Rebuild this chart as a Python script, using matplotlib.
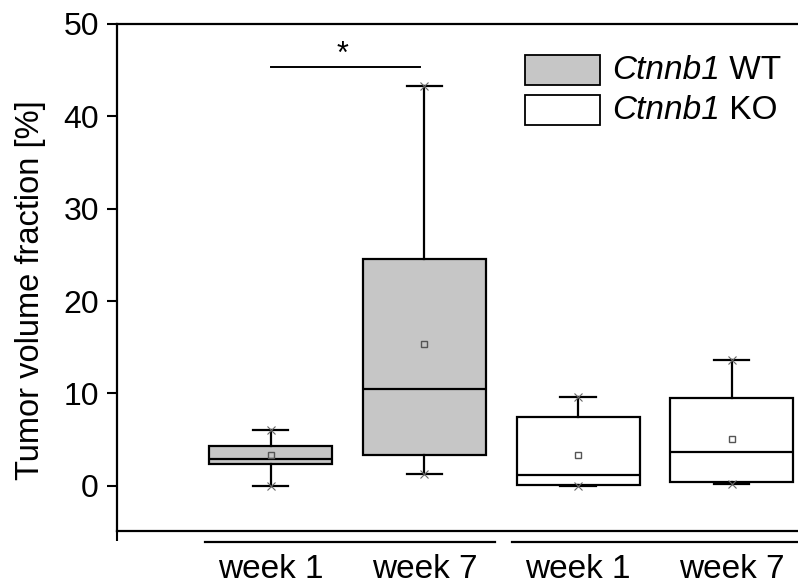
import matplotlib.pyplot as plt
import matplotlib.transforms as mtransforms
from matplotlib.patches import Rectangle

plt.rcParams["font.family"] = ["Liberation Sans", "DejaVu Sans"]

# box statistics (tumor volume fraction, %)
groups = ["WT", "WT", "KO", "KO"]
week_labels = ["week 1", "week 7", "week 1", "week 7"]
q1 = [2.3, 3.35, 0.05, 0.45]
medians = [2.9, 10.5, 1.2, 3.7]
q3 = [4.35, 24.5, 7.4, 9.5]
whisker_low = [0.0, 1.3, 0.0, 0.2]
whisker_high = [6.0, 43.3, 9.6, 13.6]
means = [3.3, 15.3, 3.35, 5.1]
positions = [1, 2, 3, 4]

fill = {"WT": "#c6c6c6", "KO": "white"}

fig = plt.figure(figsize=(7.98, 5.86), dpi=100)
ax = fig.add_axes([0.1466, 0.0939, 0.8667, 0.8652])

stats = []
for i in range(len(positions)):
    stats.append({"med": medians[i], "q1": q1[i], "q3": q3[i],
                  "whislo": whisker_low[i], "whishi": whisker_high[i],
                  "mean": means[i]})

bp = ax.bxp(stats, positions=positions, widths=0.8, showmeans=True,
            showfliers=False, patch_artist=True, capwidths=0.23,
            boxprops=dict(linewidth=1.6, edgecolor="black"),
            medianprops=dict(color="black", linewidth=1.6),
            whiskerprops=dict(color="black", linewidth=1.6),
            capprops=dict(color="black", linewidth=1.6),
            meanprops=dict(marker="s", markersize=5, markerfacecolor="none",
                           markeredgecolor="#555555", markeredgewidth=1))
for patch, g in zip(bp["boxes"], groups):
    patch.set_facecolor(fill[g])

# min / max markers
ax.plot(positions, whisker_low, "x", color="#666666", ms=6, mew=0.8, zorder=4)
ax.plot(positions, whisker_high, "x", color="#666666", ms=6, mew=0.8, zorder=4)

ax.set_xlim(0, 4.5)
ax.set_ylim(-4.9, 50)
ax.set_yticks([0, 10, 20, 30, 40, 50])
ax.set_xticks([0])
ax.set_xticklabels([""])
ax.tick_params(axis="y", direction="out", length=7, width=1.5, labelsize=23, pad=6)
ax.tick_params(axis="x", direction="out", length=7.5, width=1.5)
for s in ["left", "bottom", "top"]:
    ax.spines[s].set_linewidth(1.6)
ax.spines["right"].set_visible(False)
ax.set_ylabel("Tumor volume fraction [%]", fontsize=23.5)
ax.yaxis.set_label_coords(-0.103, 0.475)

# group lines and week labels below the axis
trans = mtransforms.blended_transform_factory(ax.transData, ax.transAxes)
ax.plot([0.57, 2.46], [-0.022, -0.022], color="black", lw=1.6,
        transform=trans, clip_on=False)
ax.plot([2.57, 4.6], [-0.022, -0.022], color="black", lw=1.6,
        transform=trans, clip_on=False)
for p, lab in zip(positions, week_labels):
    ax.text(p, -0.0927, lab, transform=trans, ha="center", va="baseline",
            fontsize=24)

# significance bracket
ax.plot([1.0, 1.97], [45.3, 45.3], color="black", lw=1.4)
ax.text(1.47, 45.0, "*", ha="center", va="bottom", fontsize=22)

# legend drawn by hand
for g, ytop in [("WT", 46.65), ("KO", 42.3)]:
    ax.add_patch(Rectangle((2.655, ytop - 3.25), 0.487, 3.25,
                           facecolor=fill[g], edgecolor="black", lw=1.3))
    t = ax.text(3.22, ytop - 1.65, "Ctnnb1", ha="left", va="center",
                fontsize=24, style="italic")
    ax.annotate(" " + g, xy=(1, 0), xycoords=t, ha="left", va="bottom",
                fontsize=24)

fig.savefig("out.png", dpi=100)
